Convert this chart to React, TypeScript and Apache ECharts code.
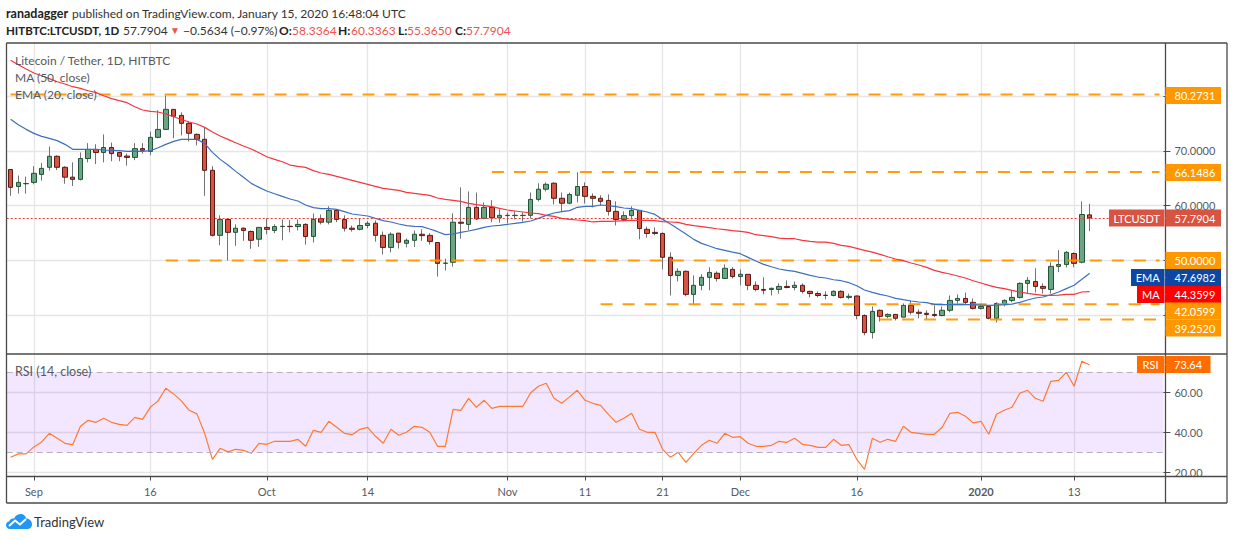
import React, { useEffect, useRef } from "react";
import * as echarts from "echarts";

const opens = [66.6,63.5,64.0,64.25,65.7,67,69,67,65.2,64.8,68.6,70.25,69.7,70.6,69.7,69.05,68.8,70.4,69.9,72.45,73.9,77.55,76.45,75,73,72.1,66.45,54.6,57.5,55.15,55.9,55.3,53.9,56.05,55.5,56.2,56.25,56.2,
56.6,54.4,57.65,57,59.15,57.5,55.9,55.7,56.4,56.8,54.6,52.4,55,53.15,53.7,54.8,54.6,53.3,49.5,49.7,57,56.6,59.7,57.7,59.7,57.8,58.2,58.2,58.2,58.25,61.15,63,64.1,61.35,60.45,61.9,63.5,61.7,
61.35,60.97,58.97,57.5,58.2,59.15,55.7,55.15,54.95,50.6,47.3,48.05,43.85,45.5,46.95,47.7,46.75,48.4,47.1,47.5,45.5,44.75,44.75,44.75,45.3,45.1,45.5,44.4,44,43.7,43.65,44.4,43.3,43.55,40,36.9,40.95,39.85,
40.2,39.7,41.85,40.6,40.4,40.2,40,40.95,42.75,43.1,42.4,41.3,41.65,39.5,42.2,42.75,43.3,45.85,46.2,45.3,44.75,48.95,49.3,51.3,49.7,58.3364];
const closes = [63.35,64.25,64.05,65.9,66.8,69,67,65.2,64.8,68.6,70.25,69.7,70.6,69.5,69,68.8,70.4,70.1,72.45,73.9,77.55,76.3,75,73.2,72.1,66.45,54.6,57.5,55.15,55.9,55.5,53.7,56.05,55.7,56.2,56.25,56.2,56.6,
54.4,57.5,57,59.15,57.5,55.9,55.7,56.4,56.8,54.6,52.4,54.8,53.35,53.7,54.8,54.55,53.5,49.5,49.55,57,56.8,59.7,57.6,59.7,57.8,58.25,58.25,58.25,58.25,61.15,63,63.9,61.35,60.45,62.05,63.5,61.7,61.35,
60.8,58.97,57.5,58.2,59.15,55.85,54.95,54.95,50.6,47.3,48.05,43.85,45.5,46.95,47.85,46.75,48.6,47.1,47.5,45.5,44.75,44.6,44.95,45.3,45.1,45.5,44.4,44,43.65,43.65,44.4,43.3,43.5,40,36.9,40.75,39.85,40.2,
39.5,41.85,40.6,40.4,40.2,40,40.95,42.75,43.1,42.4,41.3,41.65,39.5,42.2,42.75,43.3,45.85,46.4,45.3,44.95,48.95,49.3,51.5,49.5,58.4,57.7904];
const highs = [66.6,65.5,65.3,67.2,67.8,70.8,69.2,67.2,67.9,69.7,71.4,71.2,73,71.5,69.8,69.5,71.4,71.4,73.5,77.4,80.1,77.55,77,75.4,73.2,74.3,67.2,58.25,57.5,56.6,56.05,55.5,56.05,57.7,56.6,57.5,57.4,57.5,
56.8,58.6,58.4,59.9,59.15,58.25,56.4,57.7,57.2,57.3,55.3,55.15,55,54.05,55.5,55.7,55,53.3,50.35,58.6,63.35,62.6,62.4,60.6,61,59.35,58.8,59,58.8,62.4,64.1,64.26,64.26,62.4,62.4,66.1,64.26,62.25,
61.9,62.07,60.8,58.97,59.9,59.15,56.2,56.05,55.15,51.5,48.6,48.2,47.3,47.5,48.8,48.05,49.3,48.8,48.4,47.5,46.2,46.95,45.1,45.85,46.4,46.2,45.85,44.5,44.4,44.4,44.6,44.6,44,43.65,40.2,41.65,41.1,40.4,
40.2,42.2,42.75,41.1,40.95,41.85,41.65,43.65,43.85,44.2,43.1,42.2,41.85,42.4,42.95,44.6,46.05,47,48.6,45.85,49.7,51.9,51.75,51.5,60.8,60.3363];
const lows = [61.8,62.2,62.2,63.9,64.56,66.4,66.5,64,63.6,64.6,67.9,67.6,67.9,68.1,68.1,67.3,68.3,69.5,69.2,72.3,73.8,72.3,72.8,71.7,71,61.8,54.4,52.8,50,52.7,53.6,52.15,52.5,54.8,55,53.7,55.15,55.5,
52.9,53.3,56.6,56.6,57,55.3,55.3,55.5,55.9,53.45,51.1,51.5,52.2,52.4,52.5,53.6,52.9,47.1,48.2,48.9,54,55.5,57.4,57.5,57,56.9,56.8,57.5,57.1,57.7,60.8,62.6,60.25,59,60.25,60.6,60.4,59.7,
60.05,58.2,56.4,57.15,57.5,53.9,54.2,54.6,48.4,43.65,46.2,43.5,42,44.6,44.6,46.2,46.75,46.75,45.5,44.6,44.4,43.85,43.65,44,44.95,44.6,44,43.3,43.3,42.95,43.5,43.1,42.95,39.3,36.4,35.8,38.9,39.5,
39.1,39.7,40.2,39.5,39.3,39.7,39.85,40.6,42.05,42.05,41.1,41.1,39.3,38.75,41.65,42.4,43.1,44,44.2,44,44,47.9,48.75,48.8,49.5,55.365];

const ma50 = [86.48,85.69,84.9,84.17,83.68,83.14,82.59,82.17,81.68,81.38,80.95,80.59,80.04,79.5,79.13,78.77,78.04,77.43,77.19,77.07,76.7,76.2,75.7,75.25,74.88,74.27,73.42,72.7,72.09,71.48,70.87,70.33,69.66,68.93,68.45,68,67.41,67.17,
66.99,66.39,65.96,65.72,65.35,64.99,64.62,64.26,63.9,63.53,63.17,62.99,62.8,62.44,62.26,62.07,61.89,61.41,61.16,60.98,60.8,60.43,60.19,60.01,59.83,59.52,59.22,59.04,58.86,58.67,58.55,58.25,58.07,57.7,57.52,57.4,57.28,57.04,57.16,
57.15,57.21,57.27,57.33,57.33,57.33,57.27,57.09,57.03,56.97,56.6,56.36,56.18,56,55.81,55.63,55.45,55.33,55.14,54.72,54.54,54.36,54.11,53.99,53.99,53.69,53.5,53.38,53.38,53.14,52.78,52.59,52.23,51.87,51.56,51.14,50.71,
50.29,49.99,49.56,49.2,48.77,48.23,47.86,47.56,47.2,46.83,46.34,45.92,45.49,45.13,44.89,44.58,44.28,44.04,43.86,43.67,43.67,43.73,43.86,43.86,44.28,44.3599];
const ema20 = [75.73,74.76,73.91,73.18,72.63,72.27,71.85,71.18,70.27,70.27,70.27,70.27,70.15,70.09,70.02,69.9,69.96,69.9,70.02,70.57,71.18,71.72,72.09,72.09,72.09,71.36,69.72,68.44,67.41,66.26,65.17,64.07,63.34,62.68,62.19,61.71,61.22,60.86,
60.13,59.65,59.46,59.46,59.34,58.92,58.49,58.31,58.13,57.7,57.28,57.04,56.67,56.37,56.25,56.19,55.76,55.27,54.73,54.85,55.15,55.4,55.7,56.06,56.31,56.43,56.61,56.79,56.97,57.22,57.7,58.25,58.67,58.92,59.1,59.71,59.89,59.89,60.13,
60,59.82,59.58,59.46,59.15,58.85,58.42,57.51,56.66,55.75,54.84,53.87,53.14,52.66,52.17,51.87,51.56,51.26,50.59,49.92,49.32,48.89,48.47,48.22,48.04,47.68,47.31,47.01,46.83,46.52,46.34,45.98,45.43,44.64,44.22,43.85,43.55,
43.13,42.88,42.64,42.46,42.34,42.03,41.97,41.97,41.97,41.97,41.97,41.91,41.85,41.91,41.97,42.09,42.4,42.82,43.19,43.37,43.79,44.28,44.89,45.5,46.59,47.6982];
const rsi = [27.5,29.2,29.2,32.7,35.2,39.5,37,34.5,33.8,43,46,45,47,45,44,43.5,47.5,46.5,52.5,55.7,62,59.2,55.7,51,49.2,39.5,26.5,32,30.2,31.5,31,29.5,34.5,34,35.5,35.5,35.5,36.5,33,41,40,45.5,42.5,39.5,38.8,41.5,42.5,38,34.5,41.5,38.5,40,43,
42.5,40,33,33,51.5,51,57,52.5,56,52,53,53,53,53,59.8,63,64.5,57,54.5,57.7,61,56,54.5,53.5,49,45,47,49.5,41.5,40,40,31.5,27.5,30,25,29.5,33.5,36,34.5,39.5,37.5,37.8,34.5,33,33,33.5,35.5,35,37,34,33.5,32.5,32.5,36.5,
33.5,33.8,26.5,21.5,37,35,36.5,35.5,43,40,39.5,39,39,42.5,49.5,50,48,44.7,45.5,39,49,51,52.5,59.5,61,57,55.5,65.5,66,70,63,75.5,73.64];

const levels = [80.2731, 66.1486, 50, 42.0599, 39.252];
const levelStarts = [0, 62, 20, 76, 112];
const priceTicks = [80, 70, 60, 50, 40];
const priceLabels = [70, 60];
const rsiTicks = [60, 40, 20];
const dateTicks: Record<number, string> = { 3: "Sep", 18: "16", 33: "Oct", 46: "14", 64: "Nov", 74: "11", 84: "21", 94: "Dec", 109: "16", 125: "2020", 137: "13" };
const categories: string[] = Array.from({ length: 149 }, (_, i) => {
  const d = new Date(Date.UTC(2019, 7, 29 + i));
  return d.toISOString().slice(0, 10);
});

const FONT = "Lato";
const GRID_COLOR = "#e6e6e6";
const FRAME = "#4a4a4a";
const TEXT = "#555a63";

echarts.graphic.registerShape("tvcloud", echarts.graphic.extendPath(
  "M4 15C1.6 15 0 13.2 0 11C0 9 1.4 7.5 3.4 7.2C4 5 6 4 8 4.6C9.4 1.6 12 0 14.6 0C17.6 0 19.6 2 20.2 4.6C23.4 4.6 26 7.2 26 10.4C26 13 24 15 21.4 15Z", {}) as any);

const txt = (x: number, y: number, text: string, o: any = {}) => ({
  type: "text", x, y, z: 100,
  style: { text, fontFamily: FONT, fontSize: o.size ?? 12, fontWeight: o.bold ? "bold" : "normal", fill: o.fill ?? TEXT, align: o.align ?? "left", verticalAlign: "middle" },
});
const box = (x: number, y: number, w: number, h: number, fill: string) => ({
  type: "rect", z: 90, shape: { x, y, width: w, height: h }, style: { fill },
});
const ln = (x1: number, y1: number, x2: number, y2: number, stroke = FRAME, lineWidth = 1.3) => ({
  type: "line", z: 80, shape: { x1, y1, x2, y2 }, style: { stroke, lineWidth },
});

const tag = (y: number, value: string, fill: string, name?: string, nameX?: number) => {
  const out: any[] = [box(1165.5, y - 8.5, 55.5, 17, fill), txt(1174.5, y, value, { fill: "#fff", size: 11, bold: false }), ln(1165.5, y, 1170, y, "#fff", 1)];
  if (name) {
    out.push(box(nameX as number, y - 8.5, 1164.5 - (nameX as number), 17, fill));
    out.push(txt((nameX as number + 1164.5) / 2, y, name, { fill: "#fff", size: 11, align: "center" }));
  }
  return out;
};

function buildOption(): any {
  const isTick = (i: number) => dateTicks[i] !== undefined;
  const wicks = opens.map((o, i) => [o, closes[i], lows[i], highs[i]]);
  const bodies = opens.map((o, i) => [o, closes[i], Math.min(o, closes[i]), Math.max(o, closes[i])]);
  const levelSeries = levels.map((v, k) => ({
    type: "line", xAxisIndex: 0, yAxisIndex: 0, symbol: "none", silent: true,
    data: categories.map((_, i) => (i >= levelStarts[k] ? v : null)),
    lineStyle: { color: "#ff9800", width: 2, type: [12, 10], opacity: 0.95 },
  }));
  const graphic: any[] = [
    // frame
    ln(6.5, 43, 1227, 43), ln(6.5, 43, 6.5, 503), ln(6.5, 503, 1227, 503), ln(1227, 43, 1227, 503),
    ln(1165.5, 43, 1165.5, 503), ln(6.5, 354, 1227, 354), ln(6.5, 476.5, 1227, 476.5),
    // header
    txt(6, 13, "ranadagger", { bold: true, fill: "#222", size: 12.5 }),
    txt(72, 13, "published on TradingView.com, January 15, 2020 16:48:04 UTC", { fill: "#333" }),
    txt(6, 30, "HITBTC:LTCUSDT, 1D", { bold: true, fill: "#222", size: 11.5 }),
    txt(123, 30, "57.7904", { fill: "#333" }),
    txt(170, 30, "▼", { fill: "#ef5350", size: 10 }),
    txt(183, 30, "−0.5634 (−0.97%)", { fill: "#333" }),
    txt(279, 30, "O:", { bold: true, fill: "#222" }), txt(292, 30, "58.3364", { fill: "#ef5350" }),
    txt(338, 30, "H:", { bold: true, fill: "#222" }), txt(351, 30, "60.3363", { fill: "#ef5350" }),
    txt(398, 30, "L:", { bold: true, fill: "#222" }), txt(407, 30, "55.3650", { fill: "#ef5350" }),
    txt(455, 30, "C:", { bold: true, fill: "#222" }), txt(466, 30, "57.7904", { fill: "#ef5350" }),
    // legends
    txt(15, 60, "Litecoin / Tether, 1D, HITBTC"),
    txt(15, 77, "MA (50, close)"),
    txt(15, 94, "EMA (20, close)"),
    txt(15, 371, "RSI (14, close)", { size: 12.5 }),
    // tags
    ...tag(95.5, "80.2731", "#ff9800"),
    ...tag(172.5, "66.1486", "#ff9800"),
    ...tag(218, "57.7904", "#d75442", "LTCUSDT", 1109),
    ...tag(260.5, "50.0000", "#ff9800"),
    ...tag(277.5, "47.6982", "#0d47a1", "EMA", 1131),
    ...tag(294.5, "44.3599", "#ff0000", "MA", 1137),
    ...tag(311, "42.0599", "#ff9800"),
    ...tag(328, "39.2520", "#ff9800"),
    box(1137, 356, 27.5, 17, "#ff6d00"), txt(1150.5, 364.5, "RSI", { fill: "#fff", align: "center", size: 11 }),
    box(1165.5, 356, 45, 17, "#ff6d00"), txt(1174, 364.5, "73.64", { fill: "#fff", size: 11 }),
    ln(1165.5, 364.5, 1170, 364.5, "#fff", 1),
    // brand
    { type: "tvcloud", x: 6, y: 514, z: 100, style: { fill: "#2196f3" } },
    { type: "polyline", z: 101, shape: { points: [[9, 526], [15, 520.5], [20, 524.5], [26, 519]] }, style: { stroke: "#fff", lineWidth: 2, fill: "none" } },
    txt(34, 522, "TradingView", { size: 13, fill: "#333" }),
  ];

  const xBase = {
    type: "category", data: categories, boundaryGap: true,
    axisLine: { show: false },
    splitLine: { show: true, alignWithLabel: true, interval: (i: number) => isTick(i), lineStyle: { color: GRID_COLOR, width: 1.3 } },
  };

  return {
    animation: false,
    backgroundColor: "#ffffff",
    grid: [
      { left: 6.7, top: 43, width: 1156.7, height: 311 },
      { left: 6.7, top: 354, width: 1156.7, height: 122.5 },
    ],
    xAxis: [
      { ...xBase, gridIndex: 0, axisTick: { show: false }, axisLabel: { show: false } },
      {
        ...xBase, gridIndex: 1,
        axisTick: { show: true, alignWithLabel: true, interval: (i: number) => isTick(i), length: 4, lineStyle: { color: FRAME } },
        axisLabel: {
          show: true, interval: (i: number) => isTick(i), margin: 9, fontFamily: FONT, fontSize: 11, color: TEXT,
          formatter: (_: string, i: number) => (dateTicks[i] === "2020" ? "{b|2020}" : dateTicks[i] ?? ""),
          rich: { b: { fontFamily: FONT, fontSize: 11, fontWeight: "bold", color: TEXT } },
        },
      },
    ],
    yAxis: [
      {
        type: "value", gridIndex: 0, position: "right", min: 32.99, max: 89.64, scale: true,
        axisLine: { show: false },
        axisTick: { show: true, length: 7, customValues: priceTicks, lineStyle: { color: FRAME } },
        axisLabel: { show: true, margin: 11, customValues: priceLabels, fontFamily: FONT, fontSize: 11, color: TEXT, formatter: (v: number) => v.toFixed(4) },
        splitLine: { show: true, lineStyle: { color: GRID_COLOR, width: 1.3 } },
      },
      {
        type: "value", gridIndex: 1, position: "right", min: 17.9, max: 79.15, scale: true,
        axisLine: { show: false },
        axisTick: { show: true, length: 7, customValues: rsiTicks, lineStyle: { color: FRAME } },
        axisLabel: { show: true, margin: 11, customValues: rsiTicks, fontFamily: FONT, fontSize: 11, color: TEXT, formatter: (v: number) => v.toFixed(2) },
        splitLine: { show: true, lineStyle: { color: GRID_COLOR, width: 1.3 } },
      },
    ],
    series: [
      ...levelSeries,
      {
        type: "candlestick", xAxisIndex: 0, yAxisIndex: 0, barWidth: 1, data: wicks, silent: true,
        itemStyle: { color: "#737375", color0: "#737375", borderColor: "#737375", borderColor0: "#737375", borderWidth: 1 },
      },
      {
        type: "candlestick", xAxisIndex: 0, yAxisIndex: 0, barWidth: 5, data: bodies, silent: true,
        itemStyle: { color: "#6ba583", color0: "#d75442", borderColor: "#225437", borderColor0: "#5b1a13", borderWidth: 1 },
        markLine: {
          silent: true, symbol: "none", label: { show: false },
          lineStyle: { color: "#e53935", type: [2, 2], width: 1 },
          data: [{ yAxis: closes[closes.length - 1] }],
        },
      },
      { type: "line", xAxisIndex: 0, yAxisIndex: 0, data: ema20, symbol: "none", silent: true, lineStyle: { color: "#3b6fc0", width: 1.2 } },
      { type: "line", xAxisIndex: 0, yAxisIndex: 0, data: ma50, symbol: "none", silent: true, lineStyle: { color: "#f5353f", width: 1.2 } },
      {
        type: "line", xAxisIndex: 1, yAxisIndex: 1, data: rsi, symbol: "none", silent: true,
        lineStyle: { color: "#ff7a2f", width: 1.2 },
        markArea: { silent: true, itemStyle: { color: "rgba(149,40,255,0.11)" }, data: [[{ yAxis: 70 }, { yAxis: 30 }]] },
        markLine: {
          silent: true, symbol: "none", label: { show: false },
          lineStyle: { color: "#b8aebd", type: [6, 4], width: 1 },
          data: [{ yAxis: 70 }, { yAxis: 30 }],
        },
      },
    ],
    graphic,
  };
}

export default function App() {
  const ref = useRef<HTMLDivElement>(null);
  useEffect(() => {
    document.body.style.margin = "0";
    const chart = echarts.init(ref.current as HTMLDivElement, undefined, { renderer: "svg" });
    chart.setOption(buildOption());
    return () => chart.dispose();
  }, []);
  return <div ref={ref} style={{ width: 1234, height: 540 }} />;
}
